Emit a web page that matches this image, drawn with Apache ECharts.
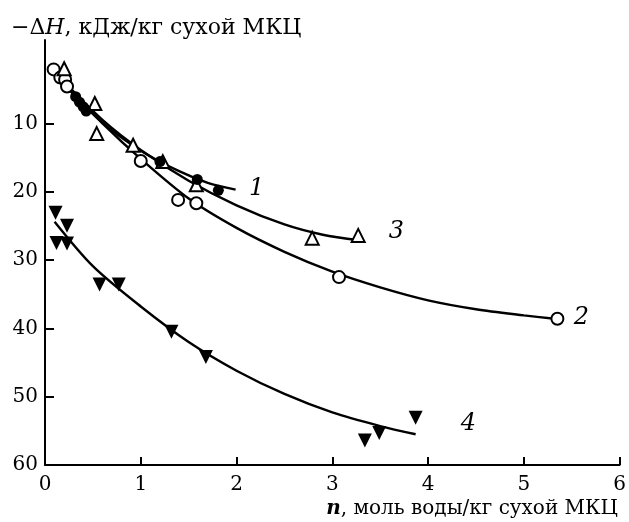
<!DOCTYPE html>
<html>
<head>
<meta charset="utf-8">
<script src="https://cdn.jsdelivr.net/npm/echarts@6/dist/echarts.min.js"></script>
<style>html,body{margin:0;padding:0;background:#fff}#c{width:629px;height:522px}</style>
</head>
<body>
<div id="c"></div>
<script>
// ---- data ----
const xTickValues = [0, 1, 2, 3, 4, 5, 6];
const yTickValues = [10, 20, 30, 40, 50, 60];

// measured points (n, -ΔH)
const series1Points = [[0.32,6.1],[0.36,6.9],[0.40,7.6],[0.43,8.2],[1.20,15.6],[1.59,18.2],[1.81,19.8]];
const series2Points = [[0.09,2.1],[0.16,3.3],[0.21,3.6],[0.23,4.6],[1.00,15.5],[1.39,21.2],[1.58,21.7],[3.07,32.5],[5.35,38.6]];
const series3Points = [[0.20,2.0],[0.52,7.1],[0.54,11.5],[0.92,13.2],[1.23,15.6],[1.58,19.0],[2.79,26.8],[3.27,26.4]];
const series4Points = [[0.11,23.1],[0.23,25.0],[0.12,27.5],[0.23,27.6],[0.57,33.6],[0.77,33.6],[1.32,40.5],[1.68,44.2],[3.34,56.4],[3.49,55.3],[3.87,53.1]];

// fitted curves
const curve1 = [[0.2,4.3],[0.6,9.9],[1.0,14.0],[1.4,17.0],[1.7,18.7],[1.99,19.7]];
const curve2 = [[0.15,3.5],[0.6,10.0],[1.0,15.2],[1.5,21.0],[2.0,25.3],[2.5,28.8],[3.0,31.7],[3.5,34.0],[4.0,35.9],[4.5,37.2],[5.0,38.1],[5.32,38.6]];
const curve3 = [[0.15,3.2],[0.6,9.5],[1.0,13.9],[1.5,18.4],[2.0,22.0],[2.5,24.8],[2.9,26.3],[3.28,27.1]];
const curve4 = [[0.10,24.4],[0.5,30.9],[1.0,36.8],[1.5,42.0],[2.0,46.2],[2.5,49.6],[3.0,52.3],[3.5,54.3],[3.87,55.5]];

const curveLabels = [["1",2.21,19.5],["2",5.60,38.5],["3",3.67,25.8],["4",4.42,53.9]];

// ---- chart ----
const FONT = "DejaVu Serif";
const chart = echarts.init(document.getElementById('c'), null, {renderer: 'canvas'});

function curveSeries(data) {
  return {type:'line', data:data, smooth:0.3, symbol:'none', silent:true,
    lineStyle:{color:'#000', width:2.4, opacity:1}, z:2};
}
function pointSeries(data, symbol, size, filled, rotate) {
  return {type:'scatter', data:data, symbol:symbol, symbolSize:size, symbolRotate:rotate||0,
    itemStyle:{color: filled ? '#000' : '#fff', borderColor:'#000', borderWidth: filled ? 0 : 2, opacity:1}, z:3};
}

const option = {
  animation:false,
  backgroundColor:'#fff',
  title:[
    {left:6, top:12, text:'−Δ{i|H}, кДж/кг сухой МКЦ',
      textStyle:{fontFamily:FONT, fontSize:22, color:'#000', fontWeight:'normal',
        rich:{i:{fontFamily:FONT, fontSize:22, fontStyle:'italic', color:'#000'}}}},
    {right:6, top:494, text:'{b|n}, моль воды/кг сухой МКЦ',
      textStyle:{fontFamily:FONT, fontSize:20, color:'#000', fontWeight:'normal',
        rich:{b:{fontFamily:FONT, fontSize:20, fontStyle:'italic', fontWeight:'bold', color:'#000'}}}}
  ],
  grid:{left:45, right:7, top:40, bottom:57, containLabel:false},
  xAxis:{type:'value', min:0, max:6, interval:1,
    axisLine:{show:true, onZero:false, lineStyle:{color:'#000', width:2}},
    axisTick:{show:true, inside:true, length:8, lineStyle:{color:'#000', width:2}, customValues: xTickValues.slice(1)},
    axisLabel:{color:'#000', fontFamily:FONT, fontSize:20, margin:10, customValues: xTickValues},
    splitLine:{show:false}},
  yAxis:{type:'value', inverse:true, min:-2.2, max:60,
    axisLine:{show:true, onZero:false, lineStyle:{color:'#000', width:2}},
    axisTick:{show:true, inside:true, length:9, lineStyle:{color:'#000', width:2}, customValues: yTickValues},
    axisLabel:{color:'#000', fontFamily:FONT, fontSize:20, margin:7, customValues: yTickValues},
    splitLine:{show:false}},
  series:[
    curveSeries(curve1), curveSeries(curve2), curveSeries(curve3), curveSeries(curve4),
    pointSeries(series2Points, 'circle', 12, false),
    pointSeries(series3Points, 'triangle', 13, false),
    pointSeries(series1Points, 'circle', 11, true),
    pointSeries(series4Points, 'triangle', 14, true, 180),
    {type:'scatter', symbolSize:1, itemStyle:{color:'rgba(0,0,0,0)', opacity:1}, z:4,
      data: curveLabels.map(d => ({name:d[0], value:[d[1], d[2]]})),
      label:{show:true, position:'inside', formatter:p => p.name, color:'#000',
        fontFamily:FONT, fontSize:24, fontStyle:'italic'}}
  ]
};
chart.setOption(option);
</script>
</body>
</html>
